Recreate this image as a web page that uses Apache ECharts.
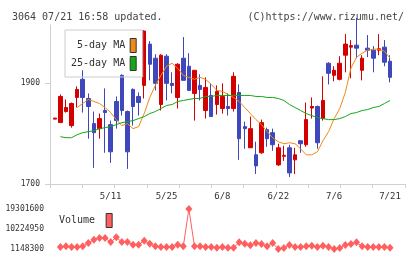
<!DOCTYPE html>
<html><head><meta charset="utf-8">
<script src="https://cdn.jsdelivr.net/npm/echarts@6/dist/echarts.min.js"></script>
<style>html,body{margin:0;padding:0;background:#fff}#c{width:420px;height:259px}</style>
</head><body><div id="c"></div>
<script>
const dates = ['4/24','4/25','4/26','4/27','4/28','5/1','5/2','5/8','5/9','5/10',
 '5/11','5/12','5/15','5/16','5/17','5/18','5/19','5/22','5/23','5/24',
 '5/25','5/26','5/29','5/30','5/31','6/1','6/2','6/5','6/6','6/7',
 '6/8','6/9','6/12','6/13','6/14','6/15','6/16','6/19','6/20','6/21',
 '6/22','6/23','6/26','6/27','6/28','6/29','6/30','7/3','7/4','7/5',
 '7/6','7/7','7/10','7/11','7/12','7/13','7/14','7/18','7/19','7/20','7/21'];
// [open, close, low, high]
const ohlc = [
 [1829,1831,1829,1831],[1822,1874,1822,1878],[1844,1852,1842,1868],[1816,1860,1812,1862],[1872,1888,1852,1894],
 [1908,1872,1842,1926],[1870,1854,1790,1880],[1820,1802,1732,1844],[1810,1830,1790,1840],[1846,1842,1762,1890],
 [1818,1764,1742,1826],[1864,1826,1810,1874],[1916,1846,1836,1918],[1844,1764,1730,1846],[1888,1854,1816,1890],
 [1874,1862,1836,1882],[1896,2004,1870,2006],[1978,1938,1906,1984],[1950,1900,1886,1958],[1858,1956,1846,1958],
 [1954,1900,1866,1958],[1900,1896,1880,1922],[1872,1938,1850,1940],[1950,1906,1906,1992],[1934,1886,1886,1960],
 [1880,1926,1826,1926],[1896,1888,1866,1918],[1846,1892,1830,1912],[1876,1834,1834,1900],[1858,1884,1838,1896],
 [1850,1874,1840,1900],[1854,1850,1836,1880],[1850,1914,1844,1922],[1882,1790,1748,1898],[1814,1810,1770,1824],
 [1772,1810,1772,1834],[1758,1736,1720,1784],[1762,1822,1760,1828],[1808,1790,1774,1812],[1802,1778,1766,1810],
 [1738,1772,1736,1780],[1755,1757,1746,1776],[1772,1722,1714,1778],[1748,1758,1720,1772],[1786,1780,1762,1786],
 [1778,1828,1774,1862],[1851,1854,1830,1872],[1854,1782,1770,1856],[1830,1866,1826,1914],[1940,1920,1898,1942],
 [1916,1926,1904,1934],[1908,1940,1906,1954],[1956,1978,1922,1998],[1972,1975,1910,1986],[1976,1970,1950,2030],
 [1926,1950,1906,1956],[1970,1966,1952,1996],[1966,1950,1922,1974],[1966,1969,1956,1998],[1972,1942,1934,1986],
 [1944,1912,1902,1956]];
const ma5 = [null,null,null,null,1852,1860,1868,1864,1860,1852,
 1842,1828,1816,1820,1810,1814,1840,1872,1896,1916,
 1934,1940,1930,1916,1912,1908,1912,1908,1898,1886,
 1884,1878,1872,1864,1852,1840,1828,1818,1804,1792,
 1784,1780,1782,1780,1770,1758,1758,1764,1786,1804,
 1830,1850,1882,1930,1952,1960,1966,1968,1968,1964,1950];
const ma25 = [null,1794,1792,1792,1798,1802,1804,1806,1810,1812,
 1814,1818,1822,1824,1826,1830,1834,1840,1844,1850,
 1856,1858,1864,1866,1868,1870,1870,1874,1874,1876,
 1876,1876,1876,1876,1876,1876,1874,1874,1872,1872,
 1870,1866,1858,1852,1846,1840,1836,1832,1830,1828,
 1828,1830,1834,1840,1842,1846,1848,1852,1854,1860,1866];
const volume = [null,2060000,2360000,2060000,2060000,2360000,3870000,5380000,6140000,6140000,
 4320000,6440000,4320000,4320000,3110000,3110000,4930000,3570000,2360000,2060000,
 2060000,2060000,3110000,2360000,19301600,2360000,2360000,2060000,2060000,1750000,
 2060000,1750000,1750000,4170000,3570000,2810000,3870000,3420000,2360000,3870000,
 1148300,1600000,2960000,2060000,2060000,2360000,2660000,2060000,2660000,2060000,
 1200000,1600000,2960000,3420000,4170000,2360000,2060000,2060000,2060000,2060000,1750000];
const priceTicks = [1700, 1900];
const volumeTicks = [1148300, 10224950, 19301600];
const xLabels = ['5/11','5/25','6/8','6/22','7/6','7/21'];

const RED = '#d40000', BLUE = '#3f47bd', ORANGE = '#f08a14', GREEN = '#14a814', VOLC = '#ff5f5f';
const AX = '#d0d0d0';
const MONO = 'DejaVu Sans Mono';
const cats = dates.concat(['', '']);

const chart = echarts.init(document.getElementById('c'), null, {renderer: 'canvas'});
chart.setOption({
  animation: false,
  backgroundColor: '#fff',
  title: [
    {text: '3064 07/21 16:58 updated.', left: 7, top: 7, textStyle: {fontFamily: MONO, fontSize: 10, fontWeight: 'normal', color: '#444'}},
    {text: '(C)https://www.rizumu.net/', right: 11, top: 7, textStyle: {fontFamily: MONO, fontSize: 10, fontWeight: 'normal', color: '#444'}}
  ],
  legend: [
    {data: [{name: '5-day MA', icon: 'rect', itemStyle: {color: ORANGE, borderColor: '#333', borderWidth: 1}},
            {name: '25-day MA', icon: 'rect', itemStyle: {color: GREEN, borderColor: '#333', borderWidth: 1}}],
     orient: 'vertical', align: 'right', left: 65, top: 30, itemWidth: 6, itemHeight: 14, itemGap: 3,
     padding: [8, 6, 6, 6], borderColor: '#ccc', borderWidth: 1, backgroundColor: 'rgba(255,255,255,0)',
     formatter: n => n.padStart(9, ' '),
     textStyle: {fontFamily: MONO, fontSize: 10, color: '#333'}, selectedMode: false},
    {data: [{name: 'Volume', icon: 'rect', itemStyle: {color: VOLC, borderColor: '#333', borderWidth: 1}}],
     align: 'right', left: 59, top: 213, itemWidth: 6, itemHeight: 14, padding: 0,
     formatter: n => n + ' ',
     textStyle: {fontFamily: MONO, fontSize: 10, color: '#333'}, selectedMode: false}
  ],
  grid: [
    {left: 50, top: 25, width: 355, height: 159},
    {left: 52, top: 25, width: 352, height: 159},
    {left: 52, top: 209, width: 352, height: 40}
  ],
  xAxis: [
    {gridIndex: 0, type: 'value', min: 0, max: 11, interval: 1,
     axisLine: {show: true, lineStyle: {color: AX}}, axisTick: {show: true, length: 4, lineStyle: {color: AX}},
     axisLabel: {show: false}, splitLine: {show: false}},
    {gridIndex: 1, type: 'category', data: cats, boundaryGap: true,
     axisLine: {show: false}, axisTick: {show: false}, splitLine: {show: false},
     axisLabel: {interval: (i, v) => xLabels.indexOf(v) >= 0, fontFamily: MONO, fontSize: 9, color: '#333', margin: 8}},
    {gridIndex: 2, type: 'category', data: cats, boundaryGap: true, show: false}
  ],
  yAxis: [
    {gridIndex: 0, type: 'value', min: 1700, max: 2016, interval: 200,
     axisLine: {show: true, lineStyle: {color: AX}},
     axisTick: {show: true, length: 5, lineStyle: {color: AX}, customValues: priceTicks},
     axisLabel: {fontFamily: MONO, fontSize: 8, color: '#333', margin: 10, customValues: priceTicks,
       formatter: v => priceTicks.indexOf(v) >= 0 ? String(v) : ''},
     splitLine: {show: false}},
    {gridIndex: 1, type: 'value', min: 1700, max: 2016, show: false, splitLine: {show: false}},
    {gridIndex: 2, type: 'value', min: 1148300, max: 19301600,
     axisLine: {show: false}, axisTick: {show: false}, splitLine: {show: false},
     axisLabel: {fontFamily: MONO, fontSize: 8, color: '#333', margin: 8, customValues: volumeTicks,
       formatter: v => String(v)}}
  ],
  series: [
    {type: 'candlestick', xAxisIndex: 1, yAxisIndex: 1, data: ohlc, barWidth: 4, clip: true,
     itemStyle: {color: RED, color0: BLUE, borderColor: RED, borderColor0: BLUE, borderWidth: 1}},
    {name: '5-day MA', type: 'line', xAxisIndex: 1, yAxisIndex: 1, data: ma5, showSymbol: false, symbol: 'none',
     lineStyle: {color: ORANGE, width: 1}, itemStyle: {color: ORANGE}},
    {name: '25-day MA', type: 'line', xAxisIndex: 1, yAxisIndex: 1, data: ma25, showSymbol: false, symbol: 'none',
     lineStyle: {color: GREEN, width: 1}, itemStyle: {color: GREEN}},
    {name: 'Volume', type: 'line', xAxisIndex: 2, yAxisIndex: 2, data: volume, symbol: 'diamond', symbolSize: [7, 8],
     showAllSymbol: true, showSymbol: true,
     lineStyle: {color: VOLC, width: 1}, itemStyle: {color: VOLC}}
  ]
});
</script></body></html>
